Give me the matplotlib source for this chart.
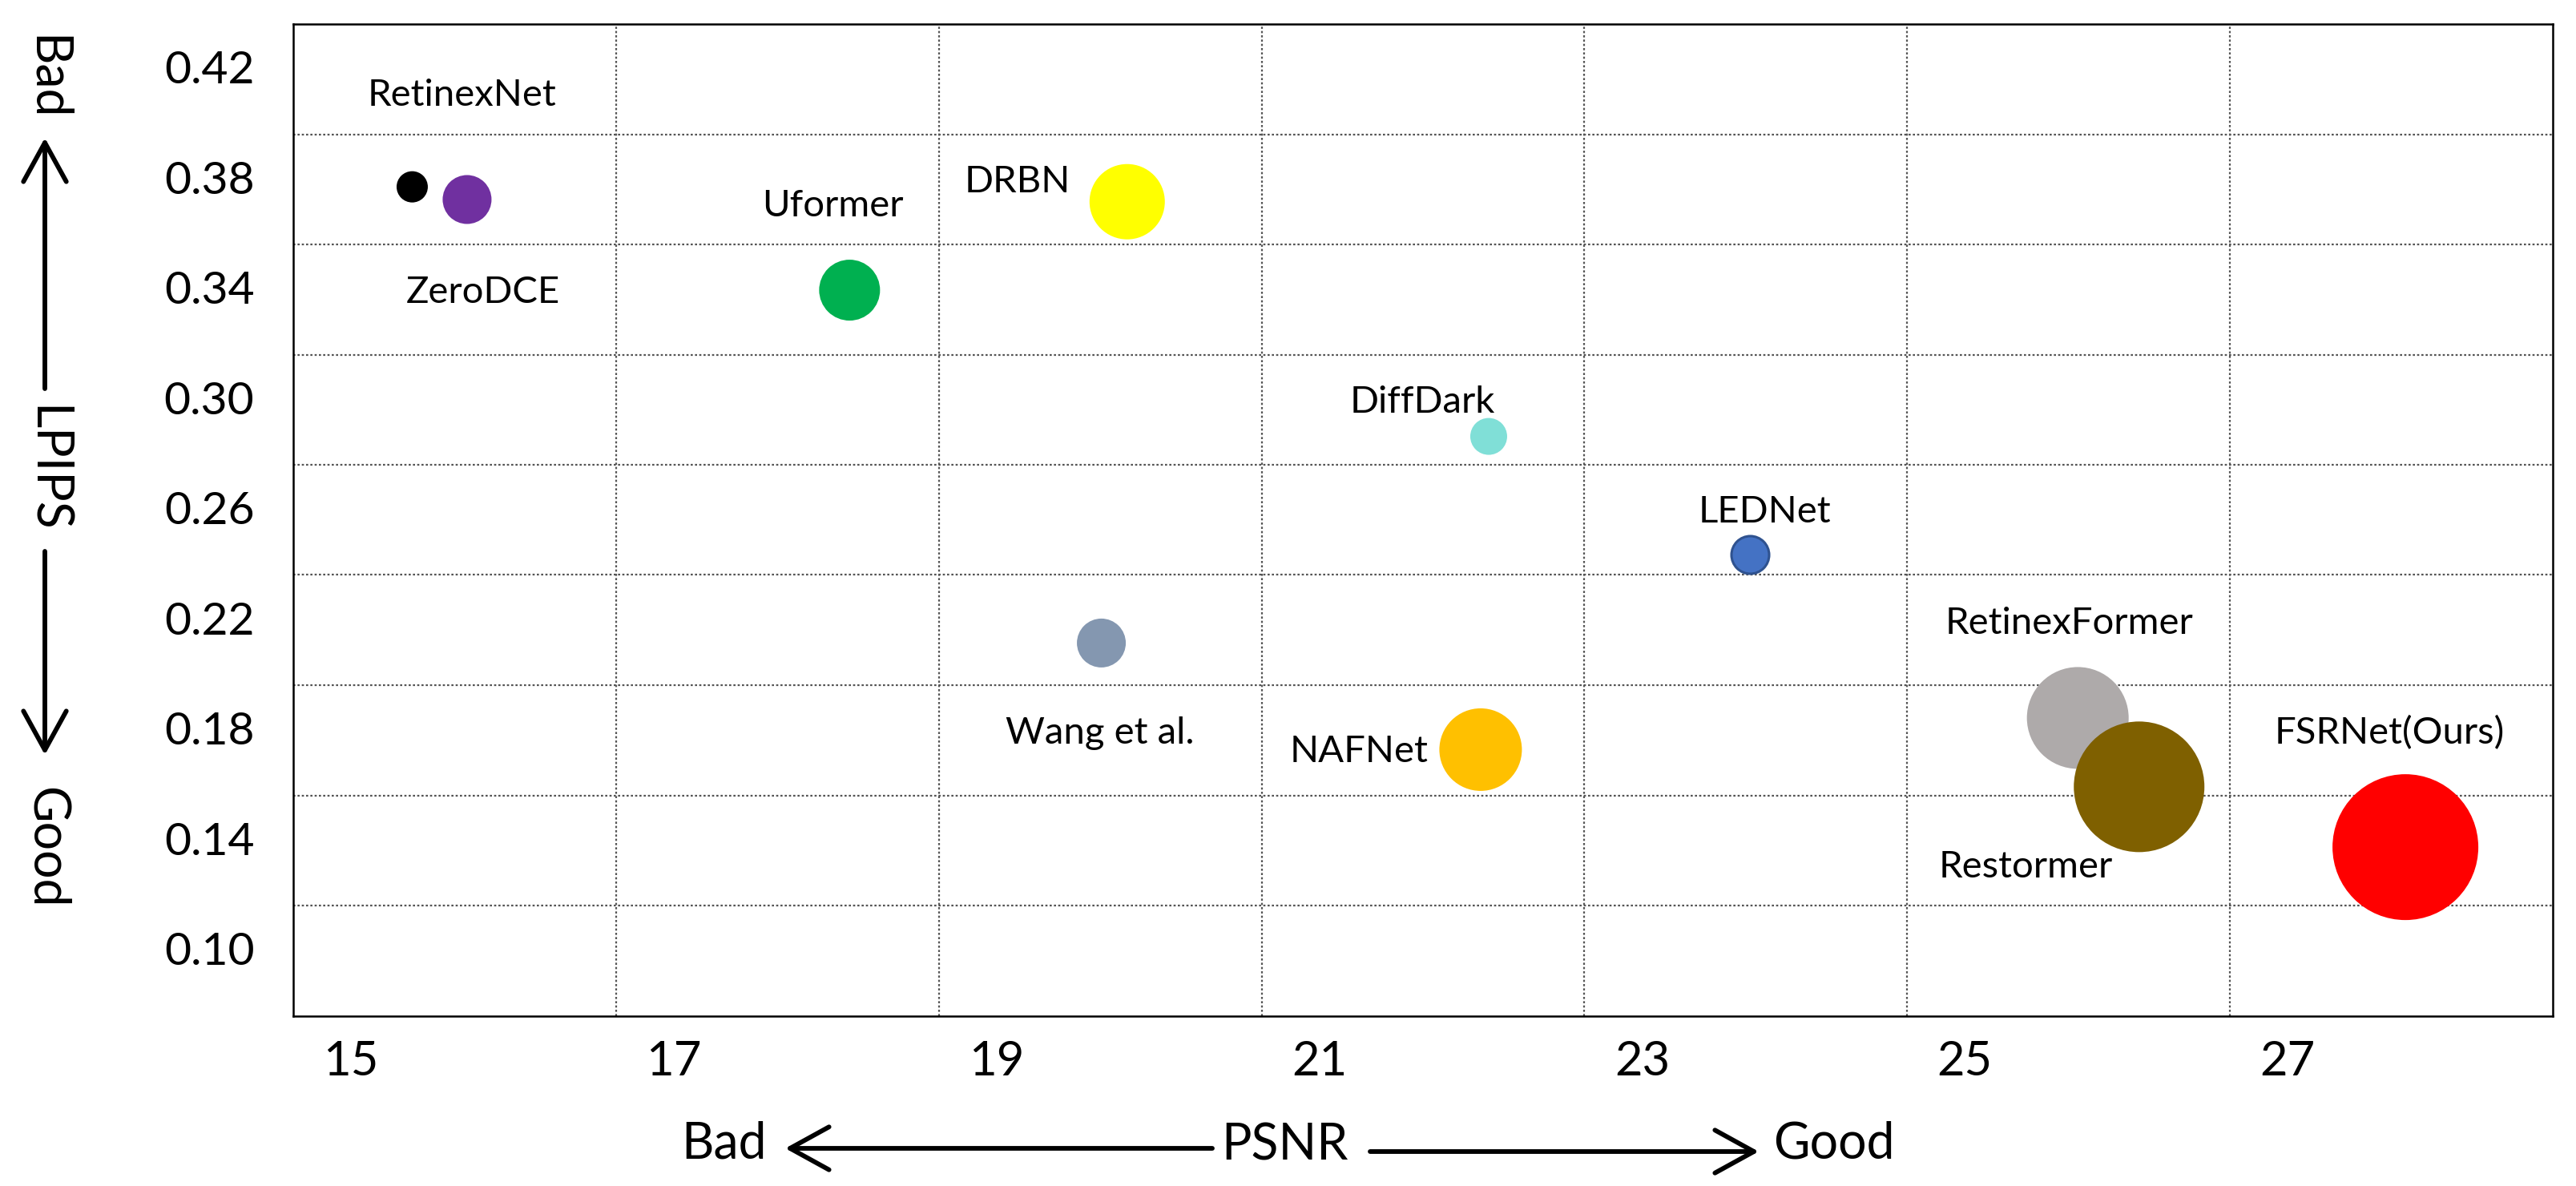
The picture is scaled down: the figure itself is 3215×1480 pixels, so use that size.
import matplotlib
matplotlib.use('Agg')
import matplotlib.pyplot as plt

plt.rcParams['font.family'] = ['Lato', 'DejaVu Sans']

# methods, PSNR (x), LPIPS (y) and bubble size (diameter in px)
methods = ['RetinexNet', 'ZeroDCE', 'Uformer', 'DRBN', 'DiffDark', 'LEDNet',
           'Wang et al.', 'NAFNet', 'RetinexFormer', 'Restormer', 'FSRNet(Ours)']
psnr = [15.38, 15.72, 18.09, 19.81, 22.05, 23.67, 19.65, 22.00, 25.70, 26.08, 27.73]
lpips = [0.3766, 0.3720, 0.3391, 0.3712, 0.2860, 0.2432, 0.2110, 0.1723, 0.1838, 0.1588, 0.1369]
bubble = [39, 61, 76, 94, 46, 47, 61, 103, 127, 163, 182]

x_ticks = [15, 17, 19, 21, 23, 25, 27]
y_ticks = [0.10, 0.14, 0.18, 0.22, 0.26, 0.30, 0.34, 0.38, 0.42]

colors = ['#000000', '#7030A0', '#00B050', '#FFFF00', '#80DFD7', '#4472C4',
          '#8497B0', '#FFC000', '#AEAAAA', '#7F6000', '#FF0000']
edges = ['none'] * 11
edges[5] = '#2F528F'
# label offsets from bubble centre (pixels, label centre x / baseline y)
label_off = [(62, 101), (20, -129), (-21, 92), (-137, 12), (-83, 30), (18, 40),
             (-2, -126), (-152, -16), (-11, 105), (-141, -113), (-20, 129)]

W, H = 3215, 1480
fig = plt.figure(figsize=(W / 100, H / 100), dpi=100)
ax = fig.add_axes([366 / W, 1 - 1267.5 / H, (3186 - 366) / W, (1267.5 - 30) / H])

ax.set_xlim(14.643, 28.643)
ax.set_ylim(0.0757, 0.4357)

# grid lines sit between the labels, as in the original chart
ax.set_xticks([14.643 + 2 * k for k in range(1, 7)], minor=True)
ax.set_yticks([0.0757 + 0.04 * k for k in range(1, 9)], minor=True)
ax.grid(which='minor', color='#555555', linestyle=(0, (1.2, 1.2)), linewidth=1.6)
ax.tick_params(which='minor', length=0)

ax.set_xticks(x_ticks)
ax.set_xticklabels([str(v) for v in x_ticks], fontsize=43)
ax.set_yticks(y_ticks)
ax.set_yticklabels(['%.2f' % v for v in y_ticks], fontsize=41)
ax.tick_params(which='major', length=0)
ax.tick_params(axis='x', pad=22)
ax.tick_params(axis='y', pad=35)
ax.set_axisbelow(True)

for s in ax.spines.values():
    s.set_linewidth(1.8)
    s.set_color('black')

for i in range(len(methods)):
    lw = 2.2 if edges[i] != 'none' else 0
    ax.scatter(psnr[i], lpips[i], s=(bubble[i] * 0.72) ** 2, color=colors[i],
               edgecolors=edges[i], linewidths=lw, zorder=3)
    ax.annotate(methods[i], (psnr[i], lpips[i]), xytext=label_off[i],
                textcoords='offset pixels', ha='center', va='baseline',
                fontsize=34, zorder=4)


def fpos(x, y):
    return (x / W, 1 - y / H)


arrow = dict(arrowstyle='->,head_length=1.0,head_width=0.55', lw=4.2,
             color='black', mutation_scale=35, shrinkA=0, shrinkB=0)

# y axis: Bad ^ LPIPS v Good
fig.text(*fpos(58, 97), 'Bad', rotation=270, ha='center', va='center', fontsize=45)
fig.text(*fpos(58, 585), 'LPIPS', rotation=270, ha='center', va='center', fontsize=45)
fig.text(*fpos(58, 1058), 'Good', rotation=270, ha='center', va='center', fontsize=45)
ax.annotate('', xy=fpos(56, 172), xytext=fpos(56, 485), xycoords='figure fraction',
            textcoords='figure fraction', arrowprops=arrow)
ax.annotate('', xy=fpos(56, 942), xytext=fpos(56, 688), xycoords='figure fraction',
            textcoords='figure fraction', arrowprops=arrow)

# x axis: Bad <- PSNR -> Good
fig.text(*fpos(904, 1428), 'Bad', ha='center', va='center', fontsize=45)
fig.text(*fpos(1603, 1429), 'PSNR', ha='center', va='center', fontsize=45)
fig.text(*fpos(2289, 1428), 'Good', ha='center', va='center', fontsize=45)
ax.annotate('', xy=fpos(980, 1433), xytext=fpos(1513, 1433), xycoords='figure fraction',
            textcoords='figure fraction', arrowprops=arrow)
ax.annotate('', xy=fpos(2195, 1437), xytext=fpos(1710, 1437), xycoords='figure fraction',
            textcoords='figure fraction', arrowprops=arrow)

fig.savefig('out.png', dpi=100, facecolor='white')
